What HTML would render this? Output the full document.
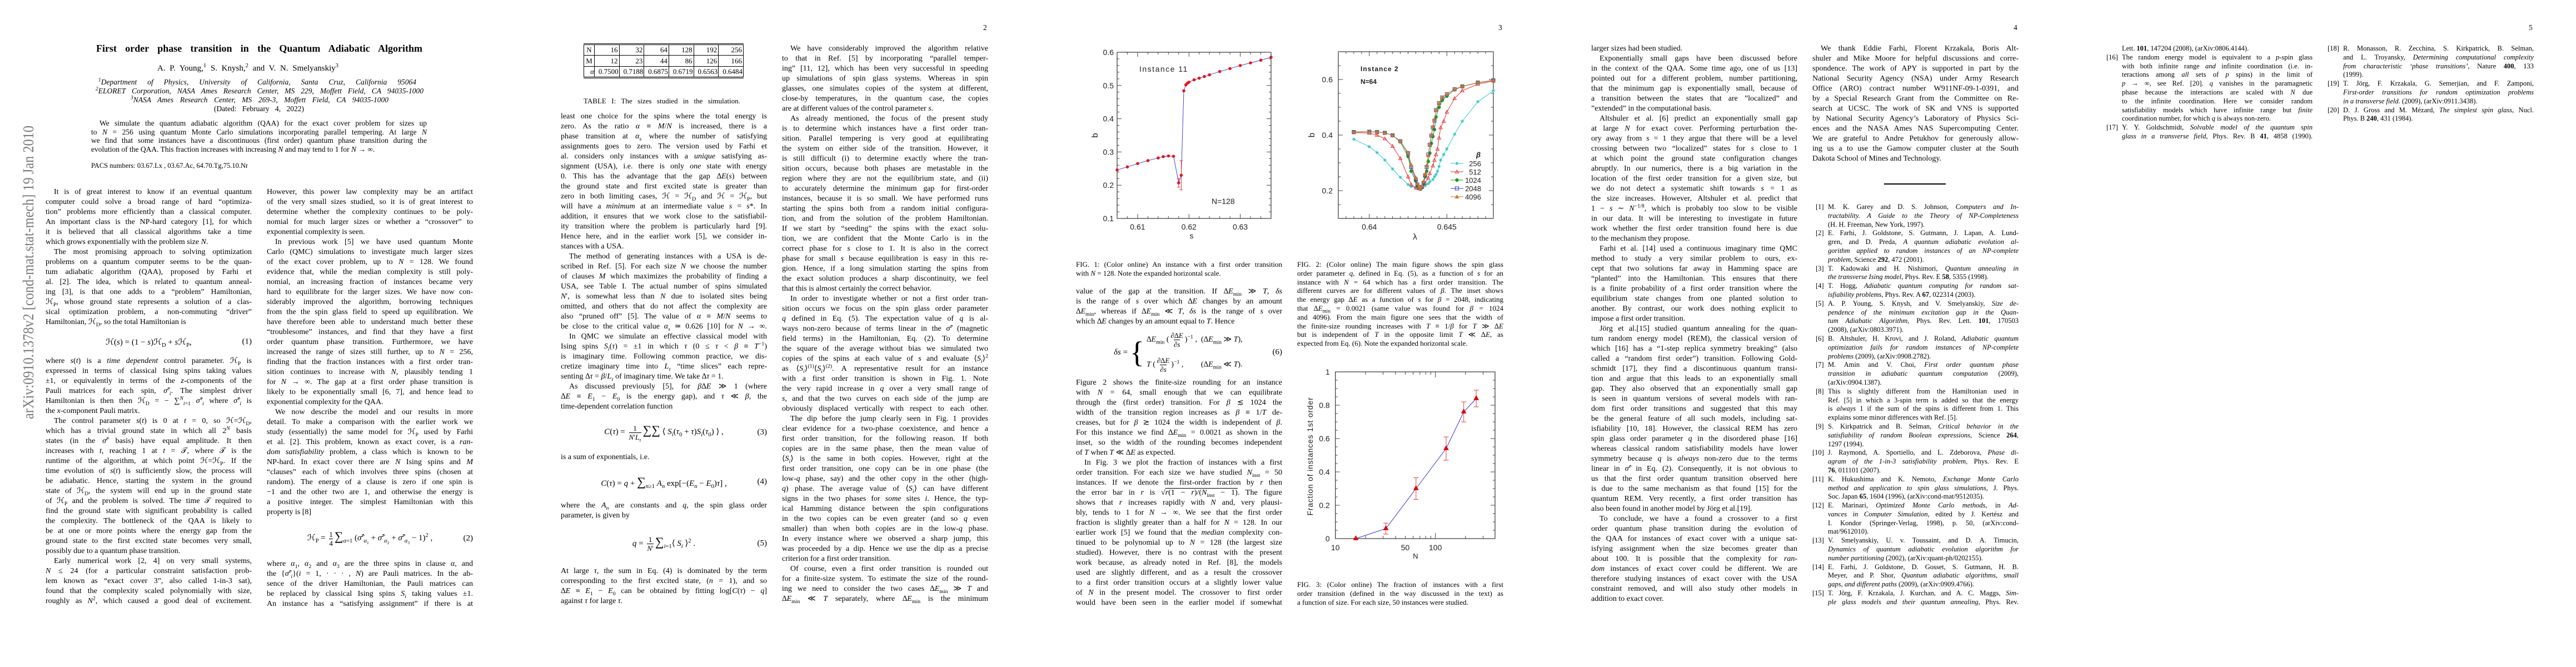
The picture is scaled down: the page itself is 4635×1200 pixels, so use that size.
<!DOCTYPE html>
<html><head><meta charset="utf-8">
<style>
*{margin:0;padding:0;box-sizing:border-box}
body{width:4635px;height:1200px;background:#fff;position:relative;overflow:hidden;font-family:"Liberation Serif",serif;color:#000}
.pg{position:absolute;top:0;width:927px;height:1200px}
.col{position:absolute;width:371px;font-size:14px}
.l{height:18px;line-height:18px;text-align:justify;text-align-last:justify;overflow:hidden;white-space:normal}
.e{text-align-last:left}
.i{text-indent:15px}
.eq{position:relative;display:flex;align-items:center;justify-content:center;font-size:15px}
.eq .n{position:absolute;right:0;top:50%;transform:translateY(-50%)}
.fr{display:inline-flex;flex-direction:column;align-items:center;vertical-align:middle;font-size:13px;line-height:15px;margin:0 3px}
.fr>span:last-child{border-top:1px solid #000}
.pn{position:absolute;left:842px;top:42px;font-size:13.5px}
.cap{position:absolute;width:371px;font-size:13px}
.cap .l{height:15.8px;line-height:15.8px}
.refs{position:absolute;width:371px;font-size:12.5px}
.ref{position:relative;padding-left:28px}
.ref .lb{position:absolute;left:6px;top:0;line-height:15.8px}
.ref .l{height:15.8px;line-height:15.8px}
.ref.w .lb{left:0}
sub,sup{font-size:70%;line-height:0}
svg text{font-family:"Liberation Sans",sans-serif}
</style></head><body>

<svg style="position:absolute;left:20px;top:215px" width="45" height="550">
<text transform="translate(40,539) rotate(-90)" textLength="528" lengthAdjust="spacingAndGlyphs" font-size="27" fill="#7a7a7a" style="font-family:'Liberation Serif',serif">arXiv:0910.1378v2  [cond-mat.stat-mech]  19 Jan 2010</text>
</svg>

<div class="pg" style="left:0">
<div style="position:absolute;left:173px;top:77px;width:587px;font-size:18px;font-weight:bold;text-align:justify;text-align-last:justify;white-space:nowrap">First order phase transition in the Quantum Adiabatic Algorithm</div>
<div style="position:absolute;left:283px;top:115px;width:326px;font-size:15px;text-align:justify;text-align-last:justify;white-space:nowrap">A. P. Young,<sup>1</sup> S. Knysh,<sup>2</sup> and V. N. Smelyanskiy<sup>3</sup></div>
<div style="position:absolute;left:0;top:140px;width:927px;font-size:13.5px;font-style:italic;line-height:16px">
<div style="margin-left:177px;width:572px;text-align:justify;text-align-last:justify;white-space:nowrap"><sup>1</sup>Department of Physics, University of California, Santa Cruz, California 95064</div>
<div style="margin-left:172px;width:590px;text-align:justify;text-align-last:justify;white-space:nowrap"><sup>2</sup>ELORET Corporation, NASA Ames Research Center, MS 229, Moffett Field, CA 94035-1000</div>
<div style="margin-left:235px;width:464px;text-align:justify;text-align-last:justify;white-space:nowrap"><sup>3</sup>NASA Ames Research Center, MS 269-3, Moffett Field, CA 94035-1000</div>
<div style="margin-left:385px;width:162px;font-style:normal;text-align:justify;text-align-last:justify;white-space:nowrap">(Dated: February 4, 2022)</div>
</div>
<div style="position:absolute;left:164px;top:214px;width:604px;font-size:13.5px">
<div class="l i" style="height:15.7px;line-height:15.7px">We simulate the quantum adiabatic algorithm (QAA) for the exact cover problem for sizes up</div>
<div class="l" style="height:15.7px;line-height:15.7px">to <i>N</i> = 256 using quantum Monte Carlo simulations incorporating parallel tempering. At large <i>N</i></div>
<div class="l" style="height:15.7px;line-height:15.7px">we find that some instances have a discontinuous (first order) quantum phase transition during the</div>
<div class="l e" style="height:15.7px;line-height:15.7px">evolution of the QAA. This fraction increases with increasing <i>N</i> and may tend to 1 for <i>N</i> → ∞.</div>
</div>
<div style="position:absolute;left:164px;top:291px;font-size:12.5px">PACS numbers: 03.67.Lx , 03.67.Ac, 64.70.Tg,75.10.Nr</div>

<div class="col" style="left:82px;top:337px">
<div class="l i">It is of great interest to know if an eventual quantum</div>
<div class="l">computer could solve a broad range of hard “optimiza-</div>
<div class="l">tion” problems more efficiently than a classical computer.</div>
<div class="l">An important class is the NP-hard category [1], for which</div>
<div class="l">it is believed that all classical algorithms take a time</div>
<div class="l e">which grows exponentially with the problem size <i>N</i>.</div>
<div class="l i">The most promising approach to solving optimization</div>
<div class="l">problems on a quantum computer seems to be the quan-</div>
<div class="l">tum adiabatic algorithm (QAA), proposed by Farhi et</div>
<div class="l">al. [2]. The idea, which is related to quantum anneal-</div>
<div class="l">ing [3], is that one adds to a “problem” Hamiltonian,</div>
<div class="l">ℋ<sub>P</sub>, whose ground state represents a solution of a clas-</div>
<div class="l">sical optimization problem, a non-commuting “driver”</div>
<div class="l e">Hamiltonian, ℋ<sub>D</sub>, so the total Hamiltonian is</div>
<div class="eq" style="height:52px"><span>ℋ(<i>s</i>) = (1 − <i>s</i>)ℋ<sub>D</sub> + <i>s</i>ℋ<sub>P</sub>,</span><span class="n">(1)</span></div>
<div class="l">where <i>s</i>(<i>t</i>) is a <i>time dependent</i> control parameter. ℋ<sub>P</sub> is</div>
<div class="l">expressed in terms of classical Ising spins taking values</div>
<div class="l">±1, or equivalently in terms of the <i>z</i>-components of the</div>
<div class="l">Pauli matrices for each spin, <i>σ̂</i><sup><i>z</i></sup><sub><i>i</i></sub>. The simplest driver</div>
<div class="l">Hamiltonian is then then ℋ<sub>D</sub> = − ∑<sup><i>N</i></sup><sub><i>i</i>=1</sub> <i>σ̂</i><sup><i>x</i></sup><sub><i>i</i></sub> where <i>σ̂</i><sup><i>x</i></sup><sub><i>i</i></sub> is</div>
<div class="l e">the <i>x</i>-component Pauli matrix.</div>
<div class="l i">The control parameter <i>s</i>(<i>t</i>) is 0 at <i>t</i> = 0, so ℋ=ℋ<sub>D</sub>,</div>
<div class="l">which has a trivial ground state in which all 2<sup><i>N</i></sup> basis</div>
<div class="l">states (in the <i>σ̂</i><sup><i>z</i></sup> basis) have equal amplitude. It then</div>
<div class="l">increases with <i>t</i>, reaching 1 at <i>t</i> = 𝒯, where 𝒯 is the</div>
<div class="l">runtime of the algorithm, at which point ℋ=ℋ<sub>P</sub>. If the</div>
<div class="l">time evolution of <i>s</i>(<i>t</i>) is sufficiently slow, the process will</div>
<div class="l">be adiabatic. Hence, starting the system in the ground</div>
<div class="l">state of ℋ<sub>D</sub>, the system will end up in the ground state</div>
<div class="l">of ℋ<sub>P</sub> and the problem is solved. The time 𝒯 required to</div>
<div class="l">find the ground state with significant probability is called</div>
<div class="l">the complexity. The bottleneck of the QAA is likely to</div>
<div class="l">be at one or more points where the energy gap from the</div>
<div class="l">ground state to the first excited state becomes very small,</div>
<div class="l e">possibly due to a quantum phase transition.</div>
<div class="l i">Early numerical work [2, 4] on very small systems,</div>
<div class="l"><i>N</i> ≤ 24 (for a particular constraint satisfaction prob-</div>
<div class="l">lem known as “exact cover 3”, also called 1-in-3 sat),</div>
<div class="l">found that the complexity scaled polynomially with size,</div>
<div class="l">roughly as <i>N</i><sup>2</sup>, which caused a good deal of excitement.</div>
</div>

<div class="col" style="left:480px;top:337px">
<div class="l">However, this power law complexity may be an artifact</div>
<div class="l">of the very small sizes studied, so it is of great interest to</div>
<div class="l">determine whether the complexity continues to be poly-</div>
<div class="l">nomial for much larger sizes or whether a “crossover” to</div>
<div class="l e">exponential complexity is seen.</div>
<div class="l i">In previous work [5] we have used quantum Monte</div>
<div class="l">Carlo (QMC) simulations to investigate much larger sizes</div>
<div class="l">of the exact cover problem, up to <i>N</i> = 128. We found</div>
<div class="l">evidence that, while the median complexity is still poly-</div>
<div class="l">nomial, an increasing fraction of instances became very</div>
<div class="l">hard to equilibrate for the larger sizes. We have now con-</div>
<div class="l">siderably improved the algorithm, borrowing techniques</div>
<div class="l">from the the spin glass field to speed up equilibration. We</div>
<div class="l">have therefore been able to understand much better these</div>
<div class="l">“troublesome” instances, and find that they have a first</div>
<div class="l">order quantum phase transition. Furthermore, we have</div>
<div class="l">increased the range of sizes still further, up to <i>N</i> = 256,</div>
<div class="l">finding that the fraction instances with a first order tran-</div>
<div class="l">sition continues to increase with <i>N</i>, plausibly tending 1</div>
<div class="l">for <i>N</i> → ∞. The gap at a first order phase transition is</div>
<div class="l">likely to be exponentially small [6, 7], and hence lead to</div>
<div class="l e">exponential complexity for the QAA.</div>
<div class="l i">We now describe the model and our results in more</div>
<div class="l">detail. To make a comparison with the earlier work we</div>
<div class="l">study (essentially) the same model for ℋ<sub>P</sub> used by Farhi</div>
<div class="l">et al. [2]. This problem, known as exact cover, is a <i>ran-</i></div>
<div class="l"><i>dom satisfiability</i> problem, a class which is known to be</div>
<div class="l">NP-hard. In exact cover there are <i>N</i> Ising spins and <i>M</i></div>
<div class="l">“clauses” each of which involves three spins (chosen at</div>
<div class="l">random). The energy of a clause is zero if one spin is</div>
<div class="l">−1 and the other two are 1, and otherwise the energy is</div>
<div class="l">a positive integer. The simplest Hamiltonian with this</div>
<div class="l e">property is [8]</div>
<div class="eq" style="height:75px"><span>ℋ<sub>P</sub> = <span class="fr"><span>1</span><span>4</span></span><span style="font-size:22px">∑</span><sub><i>α</i>=1</sub> (<i>σ̂</i><sup><i>z</i></sup><sub><i>α</i><sub>1</sub></sub> + <i>σ̂</i><sup><i>z</i></sup><sub><i>α</i><sub>2</sub></sub> + <i>σ̂</i><sup><i>z</i></sup><sub><i>α</i><sub>3</sub></sub> − 1)<sup>2</sup> ,</span><span class="n">(2)</span></div>
<div class="l">where <i>α</i><sub>1</sub>, <i>α</i><sub>2</sub> and <i>α</i><sub>3</sub> are the three spins in clause <i>α</i>, and</div>
<div class="l">the {<i>σ̂</i><sup><i>z</i></sup><sub><i>i</i></sub>}(<i>i</i> = 1, · · · , <i>N</i>) are Pauli matrices. In the ab-</div>
<div class="l">sence of the driver Hamiltonian, the Pauli matrices can</div>
<div class="l">be replaced by classical Ising spins <i>S<sub>i</sub></i> taking values ±1.</div>
<div class="l">An instance has a “satisfying assignment” if there is at</div>
</div>
</div>

<div class="pg" style="left:927px">
<div class="pn">2</div>
<table style="position:absolute;left:123px;top:78px;width:288px;border-collapse:collapse;font-size:13px;border-top:3px double #000;border-bottom:3px double #000">
<tr style="height:20px"><td style="border:1px solid #000;width:19px;text-align:center">N</td><td style="border:1px solid #000;text-align:right;padding-right:2px">16</td><td style="border:1px solid #000;text-align:right;padding-right:2px">32</td><td style="border:1px solid #000;text-align:right;padding-right:2px">64</td><td style="border:1px solid #000;text-align:right;padding-right:2px">128</td><td style="border:1px solid #000;text-align:right;padding-right:2px">192</td><td style="border:1px solid #000;text-align:right;padding-right:2px">256</td></tr>
<tr style="height:20px"><td style="border:1px solid #000;text-align:center">M</td><td style="border:1px solid #000;text-align:right;padding-right:2px">12</td><td style="border:1px solid #000;text-align:right;padding-right:2px">23</td><td style="border:1px solid #000;text-align:right;padding-right:2px">44</td><td style="border:1px solid #000;text-align:right;padding-right:2px">86</td><td style="border:1px solid #000;text-align:right;padding-right:2px">126</td><td style="border:1px solid #000;text-align:right;padding-right:2px">166</td></tr>
<tr style="height:20px"><td style="border:1px solid #000;text-align:right"><i>α</i></td><td style="border:1px solid #000;text-align:right;padding-right:1px">0.7500</td><td style="border:1px solid #000;text-align:right;padding-right:1px">0.7188</td><td style="border:1px solid #000;text-align:right;padding-right:1px">0.6875</td><td style="border:1px solid #000;text-align:right;padding-right:1px">0.6719</td><td style="border:1px solid #000;text-align:right;padding-right:1px">0.6563</td><td style="border:1px solid #000;text-align:right;padding-right:1px">0.6484</td></tr>
</table>
<div style="position:absolute;left:123px;top:174px;width:282px;font-size:13px;text-align:justify;text-align-last:justify;white-space:nowrap">TABLE I: The sizes studied in the simulation.</div>

<div class="col" style="left:82px;top:201px">
<div class="l">least one choice for the spins where the total energy is</div>
<div class="l">zero. As the ratio <i>α</i> ≡ <i>M</i>/<i>N</i> is increased, there is a</div>
<div class="l">phase transition at <i>α<sub>s</sub></i> where the number of satisfying</div>
<div class="l">assignments goes to zero. The version used by Farhi et</div>
<div class="l">al. considers only instances with a <i>unique</i> satisfying as-</div>
<div class="l">signment (USA), i.e. there is only <i>one</i> state with energy</div>
<div class="l">0. This has the advantage that the gap ∆<i>E</i>(<i>s</i>) between</div>
<div class="l">the ground state and first excited state is greater than</div>
<div class="l">zero in both limiting cases, ℋ = ℋ<sub>D</sub> and ℋ = ℋ<sub>P</sub>, but</div>
<div class="l">will have a <i>minimum</i> at an intermediate value <i>s</i> = <i>s</i>*. In</div>
<div class="l">addition, it ensures that we work close to the satisfiabil-</div>
<div class="l">ity transition where the problem is particularly hard [9].</div>
<div class="l">Hence here, and in the earlier work [5], we consider in-</div>
<div class="l e">stances with a USA.</div>
<div class="l i">The method of generating instances with a USA is de-</div>
<div class="l">scribed in Ref. [5]. For each size <i>N</i> we choose the number</div>
<div class="l">of clauses <i>M</i> which maximizes the probability of finding a</div>
<div class="l">USA, see Table I. The actual number of spins simulated</div>
<div class="l"><i>N</i>′, is somewhat less than <i>N</i> due to isolated sites being</div>
<div class="l">omitted, and others that do not affect the complexity are</div>
<div class="l">also “pruned off” [5]. The value of <i>α</i> ≡ <i>M</i>/<i>N</i> seems to</div>
<div class="l">be close to the critical value <i>α<sub>s</sub></i> ≃ 0.626 [10] for <i>N</i> → ∞.</div>
<div class="l i">In QMC we simulate an effective classical model with</div>
<div class="l">Ising spins <i>S<sub>i</sub></i>(<i>τ</i>) = ±1 in which <i>τ</i> (0 ≤ <i>τ</i> &lt; <i>β</i> ≡ <i>T</i><sup>−1</sup>)</div>
<div class="l">is imaginary time. Following common practice, we dis-</div>
<div class="l">cretize imaginary time into <i>L<sub>τ</sub></i> “time slices” each repre-</div>
<div class="l e">senting ∆<i>τ</i> = <i>β</i>/<i>L<sub>τ</sub></i> of imaginary time. We take ∆<i>τ</i> = 1.</div>
<div class="l i">As discussed previously [5], for <i>β</i>∆<i>E</i> ≫ 1 (where</div>
<div class="l">∆<i>E</i> ≡ <i>E</i><sub>1</sub> − <i>E</i><sub>0</sub> is the energy gap), and <i>τ</i> ≪ <i>β</i>, the</div>
<div class="l e">time-dependent correlation function</div>
<div class="eq" style="height:73px"><span><i>C</i>(<i>τ</i>) = <span class="fr"><span>1</span><span><i>N</i>′<i>L<sub>τ</sub></i></span></span><span style="font-size:22px">∑∑</span> ⟨ <i>S<sub>i</sub></i>(<i>τ</i><sub>0</sub> + <i>τ</i>)<i>S<sub>i</sub></i>(<i>τ</i><sub>0</sub>) ⟩ ,</span><span class="n">(3)</span></div>
<div class="l e">is a sum of exponentials, i.e.</div>
<div class="eq" style="height:69px"><span><i>C</i>(<i>τ</i>) = <i>q</i> + <span style="font-size:22px">∑</span><sub><i>n</i>≥1</sub> <i>A<sub>n</sub></i> exp[−(<i>E<sub>n</sub></i> − <i>E</i><sub>0</sub>)<i>τ</i>] ,</span><span class="n">(4)</span></div>
<div class="l">where the <i>A<sub>n</sub></i> are constants and <i>q</i>, the spin glass order</div>
<div class="l e">parameter, is given by</div>
<div class="eq" style="height:82px"><span><i>q</i> = <span class="fr"><span>1</span><span><i>N</i>′</span></span><span style="font-size:22px">∑</span><sub><i>i</i>=1</sub>⟨ <i>S<sub>i</sub></i> ⟩<sup>2</sup> .</span><span class="n">(5)</span></div>
<div class="l">At large <i>τ</i>, the sum in Eq. (4) is dominated by the term</div>
<div class="l">corresponding to the first excited state, (<i>n</i> = 1), and so</div>
<div class="l">∆<i>E</i> ≡ <i>E</i><sub>1</sub> − <i>E</i><sub>0</sub> can be obtained by fitting log[<i>C</i>(<i>τ</i>) − <i>q</i>]</div>
<div class="l e">against <i>τ</i> for large <i>τ</i>.</div>
</div>

<div class="col" style="left:480px;top:79px">
<div class="l i">We have considerably improved the algorithm relative</div>
<div class="l">to that in Ref. [5] by incorporating “parallel temper-</div>
<div class="l">ing” [11, 12], which has been very successful in speeding</div>
<div class="l">up simulations of spin glass systems. Whereas in spin</div>
<div class="l">glasses, one simulates copies of the system at different,</div>
<div class="l">close-by temperatures, in the quantum case, the copies</div>
<div class="l e">are at different values of the control parameter <i>s</i>.</div>
<div class="l i">As already mentioned, the focus of the present study</div>
<div class="l">is to determine which instances have a first order tran-</div>
<div class="l">sition. Parallel tempering is very good at equilibrating</div>
<div class="l">the system on either side of the transition. However, it</div>
<div class="l">is still difficult (i) to determine exactly where the tran-</div>
<div class="l">sition occurs, because both phases are metastable in the</div>
<div class="l">region where they are not the equilibrium state, and (ii)</div>
<div class="l">to accurately determine the minimum gap for first-order</div>
<div class="l">instances, because it is so small. We have performed runs</div>
<div class="l">starting the spins both from a random initial configura-</div>
<div class="l">tion, and from the solution of the problem Hamiltonian.</div>
<div class="l">If we start by “seeding” the spins with the exact solu-</div>
<div class="l">tion, we are confident that the Monte Carlo is in the</div>
<div class="l">correct phase for <i>s</i> close to 1. It is also in the correct</div>
<div class="l">phase for small <i>s</i> because equilibration is easy in this re-</div>
<div class="l">gion. Hence, if a long simulation starting the spins from</div>
<div class="l">the exact solution produces a sharp discontinuity, we feel</div>
<div class="l e">that this is almost certainly the correct behavior.</div>
<div class="l i">In order to investigate whether or not a first order tran-</div>
<div class="l">sition occurs we focus on the spin glass order parameter</div>
<div class="l"><i>q</i> defined in Eq. (5). The expectation value of <i>q</i> is al-</div>
<div class="l">ways non-zero because of terms linear in the <i>σ̂</i><sup><i>z</i></sup> (magnetic</div>
<div class="l">field terms) in the Hamiltonian, Eq. (2). To determine</div>
<div class="l">the square of the average without bias we simulated two</div>
<div class="l">copies of the spins at each value of <i>s</i> and evaluate ⟨<i>S<sub>i</sub></i>⟩<sup>2</sup></div>
<div class="l">as ⟨<i>S<sub>i</sub></i>⟩<sup>(1)</sup>⟨<i>S<sub>i</sub></i>⟩<sup>(2)</sup>. A representative result for an instance</div>
<div class="l">with a first order transition is shown in Fig. 1. Note</div>
<div class="l">the very rapid increase in <i>q</i> over a very small range of</div>
<div class="l"><i>s</i>, and that the two curves on each side of the jump are</div>
<div class="l">obviously displaced vertically with respect to each other.</div>
<div class="l i">The dip before the jump clearly seen in Fig. 1 provides</div>
<div class="l">clear evidence for a two-phase coexistence, and hence a</div>
<div class="l">first order transition, for the following reason. If both</div>
<div class="l">copies are in the same phase, then the mean value of</div>
<div class="l">⟨<i>S<sub>i</sub></i>⟩ is the same in both copies. However, right at the</div>
<div class="l">first order transition, one copy can be in one phase (the</div>
<div class="l">low-<i>q</i> phase, say) and the other copy in the other (high-</div>
<div class="l"><i>q</i>) phase. The average value of ⟨<i>S<sub>i</sub></i>⟩ can have different</div>
<div class="l">signs in the two phases for <i>some</i> sites <i>i</i>. Hence, the typ-</div>
<div class="l">ical Hamming distance between the spin configurations</div>
<div class="l">in the two copies can be even greater (and so <i>q</i> even</div>
<div class="l">smaller) than when both copies are in the low-<i>q</i> phase.</div>
<div class="l">In every instance where we observed a sharp jump, this</div>
<div class="l">was proceeded by a dip. Hence we use the dip as a precise</div>
<div class="l e">criterion for a first order transition.</div>
<div class="l i">Of course, even a first order transition is rounded out</div>
<div class="l">for a finite-size system. To estimate the size of the round-</div>
<div class="l">ing we need to consider the two cases ∆<i>E</i><sub>min</sub> ≫ <i>T</i> and</div>
<div class="l">∆<i>E</i><sub>min</sub> ≪ <i>T</i> separately, where ∆<i>E</i><sub>min</sub> is the minimum</div>
</div>
</div>

<div class="pg" style="left:1854px">
<div class="pn">3</div>
<div class="cap" style="left:82px;top:468px">
<div class="l">FIG. 1: (Color online) An instance with a first order transition</div>
<div class="l e">with <i>N</i> = 128. Note the expanded horizontal scale.</div>
</div>
<div class="col" style="left:82px;top:516px">
<div class="l">value of the gap at the transition. If ∆<i>E</i><sub>min</sub> ≫ <i>T</i>, <i>δs</i></div>
<div class="l">is the range of <i>s</i> over which ∆<i>E</i> changes by an amount</div>
<div class="l">∆<i>E</i><sub>min</sub>, whereas if ∆<i>E</i><sub>min</sub> ≪ <i>T</i>, <i>δs</i> is the range of <i>s</i> over</div>
<div class="l e">which ∆<i>E</i> changes by an amount equal to <i>T</i>. Hence</div>
<div class="eq" style="height:92px;justify-content:flex-start;padding-left:68px"><span><i>δs</i> = </span><span style="font-size:54px;font-weight:100;margin:0 4px;line-height:1">{</span><span style="display:inline-flex;flex-direction:column;gap:14px;font-size:14px"><span>∆<i>E</i><sub>min</sub> (<span class="fr"><span>∂∆<i>E</i></span><span>∂<i>s</i></span></span>)<sup>−1</sup> , &nbsp;(∆<i>E</i><sub>min</sub> ≫ <i>T</i>),</span><span><i>T</i> (<span class="fr"><span>∂∆<i>E</i></span><span>∂<i>s</i></span></span>)<sup>−1</sup> , &nbsp;&nbsp;&nbsp;&nbsp;&nbsp;&nbsp;&nbsp;&nbsp;(∆<i>E</i><sub>min</sub> ≪ <i>T</i>).</span></span><span class="n">(6)</span></div>
<div class="l">Figure 2 shows the finite-size rounding for an instance</div>
<div class="l">with <i>N</i> = 64, small enough that we can equilibrate</div>
<div class="l">through the (first order) transition. For <i>β</i> ≲ 1024 the</div>
<div class="l">width of the transition region increases as <i>β</i> ≡ 1/<i>T</i> de-</div>
<div class="l">creases, but for <i>β</i> ≳ 1024 the width is independent of <i>β</i>.</div>
<div class="l">For this instance we find ∆<i>E</i><sub>min</sub> = 0.0021 as shown in the</div>
<div class="l">inset, so the width of the rounding becomes independent</div>
<div class="l e">of <i>T</i> when <i>T</i> ≪ ∆<i>E</i> as expected.</div>
<div class="l i">In Fig. 3 we plot the fraction of instances with a first</div>
<div class="l">order transition. For each size we have studied <i>N</i><sub>inst</sub> = 50</div>
<div class="l">instances. If we denote the first-order fraction by <i>r</i> then</div>
<div class="l">the error bar in <i>r</i> is √<span style="border-top:1px solid #000"><i>r</i>(1 − <i>r</i>)/(<i>N</i><sub>inst</sub> − 1)</span>. The figure</div>
<div class="l">shows that <i>r</i> increases rapidly with <i>N</i> and, very plausi-</div>
<div class="l">bly, tends to 1 for <i>N</i> → ∞. We see that the first order</div>
<div class="l">fraction is slightly greater than a half for <i>N</i> = 128. In our</div>
<div class="l">earlier work [5] we found that the <i>median</i> complexity con-</div>
<div class="l">tinued to be polynomial up to <i>N</i> = 128 (the largest size</div>
<div class="l">studied). However, there is no contrast with the present</div>
<div class="l">work because, as already noted in Ref. [8], the models</div>
<div class="l">used are slightly different, and as a result the crossover</div>
<div class="l">to a first order transition occurs at a slightly lower value</div>
<div class="l">of <i>N</i> in the present model. The crossover to first order</div>
<div class="l">would have been seen in the earlier model if somewhat</div>
</div>
<div class="cap" style="left:480px;top:468px">
<div class="l">FIG. 2: (Color online) The main figure shows the spin glass</div>
<div class="l">order parameter <i>q</i>, defined in Eq. (5), as a function of <i>s</i> for an</div>
<div class="l">instance with <i>N</i> = 64 which has a first order transition. The</div>
<div class="l">different curves are for different values of <i>β</i>. The inset shows</div>
<div class="l">the energy gap ∆<i>E</i> as a function of <i>s</i> for <i>β</i> = 2048, indicating</div>
<div class="l">that ∆<i>E</i><sub>min</sub> = 0.0021 (same value was found for <i>β</i> = 1024</div>
<div class="l">and 4096). From the main figure one sees that the width of</div>
<div class="l">the finite-size rounding increases with <i>T</i> ≡ 1/<i>β</i> for <i>T</i> ≫ ∆<i>E</i></div>
<div class="l">but is independent of <i>T</i> in the opposite limit <i>T</i> ≪ ∆<i>E</i>, as</div>
<div class="l e">expected from Eq. (6). Note the expanded horizontal scale.</div>
</div>
<div class="cap" style="left:480px;top:1044px">
<div class="l">FIG. 3: (Color online) The fraction of instances with a first</div>
<div class="l">order transition (defined in the way discussed in the text) as</div>
<div class="l e">a function of size. For each size, 50 instances were studied.</div>
</div>
</div>

<svg id="fig1" style="position:absolute;left:1954px;top:80px" width="346" height="360"></svg>
<svg id="fig2" style="position:absolute;left:2340px;top:80px" width="360" height="360"></svg>
<svg id="fig3" style="position:absolute;left:2330px;top:650px" width="370" height="360"></svg>

<div class="pg" style="left:2781px">
<div class="pn">4</div>
<div class="col" style="left:82px;top:79px">
<div class="l e">larger sizes had been studied.</div>
<div class="l i">Exponentially small gaps have been discussed before</div>
<div class="l">in the context of the QAA. Some time ago, one of us [13]</div>
<div class="l">pointed out for a different problem, number partitioning,</div>
<div class="l">that the minimum gap is exponentially small, because of</div>
<div class="l">a transition between the states that are ”localized” and</div>
<div class="l e">”extended” in the computational basis.</div>
<div class="l i">Altshuler et al. [6] predict an exponentially small gap</div>
<div class="l">at large <i>N</i> for exact cover. Performing perturbation the-</div>
<div class="l">ory away from <i>s</i> = 1 they argue that there will be a level</div>
<div class="l">crossing between two “localized” states for <i>s</i> close to 1</div>
<div class="l">at which point the ground state configuration changes</div>
<div class="l">abruptly. In our numerics, there is a big variation in the</div>
<div class="l">location of the first order transition for a given size, but</div>
<div class="l">we do not detect a systematic shift towards <i>s</i> = 1 as</div>
<div class="l">the size increases. However, Altshuler et al. predict that</div>
<div class="l">1 − <i>s</i> ∼ <i>N</i><sup>−1/8</sup>, which is probably too slow to be visible</div>
<div class="l">in our data. It will be interesting to investigate in future</div>
<div class="l">work whether the first order transition found here is due</div>
<div class="l e">to the mechanism they propose.</div>
<div class="l i">Farhi et al. [14] used a continuous imaginary time QMC</div>
<div class="l">method to study a very similar problem to ours, ex-</div>
<div class="l">cept that two solutions far away in Hamming space are</div>
<div class="l">“planted” into the Hamiltonian. This ensures that there</div>
<div class="l">is a finite probability of a first order transition where the</div>
<div class="l">equilibrium state changes from one planted solution to</div>
<div class="l">another. By contrast, our work does nothing explicit to</div>
<div class="l e">impose a first order transition.</div>
<div class="l i">Jörg et al.[15] studied quantum annealing for the quan-</div>
<div class="l">tum random energy model (REM), the classical version of</div>
<div class="l">which [16] has a “1-step replica symmetry breaking” (also</div>
<div class="l">called a “random first order”) transition. Following Gold-</div>
<div class="l">schmidt [17], they find a discontinuous quantum transi-</div>
<div class="l">tion and argue that this leads to an exponentially small</div>
<div class="l">gap. They also observed that an exponentially small gap</div>
<div class="l">is seen in quantum versions of several models with ran-</div>
<div class="l">dom first order transitions and suggested that this may</div>
<div class="l">be the general feature of all such models, including sat-</div>
<div class="l">isfiability [10, 18]. However, the classical REM has zero</div>
<div class="l">spin glass order parameter <i>q</i> in the disordered phase [16]</div>
<div class="l">whereas classical random satisfiability models have lower</div>
<div class="l">symmetry because <i>q</i> is <i>always</i> non-zero due to the terms</div>
<div class="l">linear in <i>σ̂</i><sup><i>z</i></sup> in Eq. (2). Consequently, it is not obvious to</div>
<div class="l">us that the first order quantum transition observed here</div>
<div class="l">is due to the same mechanism as that found [15] for the</div>
<div class="l">quantum REM. Very recently, a first order transition has</div>
<div class="l e">also been found in another model by Jörg et al.[19].</div>
<div class="l i">To conclude, we have a found a crossover to a first</div>
<div class="l">order quantum phase transition during the evolution of</div>
<div class="l">the QAA for instances of exact cover with a unique sat-</div>
<div class="l">isfying assignment when the size becomes greater than</div>
<div class="l">about 100. It is possible that the complexity for <i>ran-</i></div>
<div class="l"><i>dom</i> instances of exact cover could be different. We are</div>
<div class="l">therefore studying instances of exact cover with the USA</div>
<div class="l">constraint removed, and will also study other models in</div>
<div class="l e">addition to exact cover.</div>
</div>
<div class="col" style="left:480px;top:79px">
<div class="l i">We thank Eddie Farhi, Florent Krzakala, Boris Alt-</div>
<div class="l">shuler and Mike Moore for helpful discussions and corre-</div>
<div class="l">spondence. The work of APY is supported in part by the</div>
<div class="l">National Security Agency (NSA) under Army Research</div>
<div class="l">Office (ARO) contract number W911NF-09-1-0391, and</div>
<div class="l">by a Special Research Grant from the Committee on Re-</div>
<div class="l">search at UCSC. The work of SK and VNS is supported</div>
<div class="l">by National Security Agency’s Laboratory of Physics Sci-</div>
<div class="l">ences and the NASA Ames NAS Supercomputing Center.</div>
<div class="l">We are grateful to Andre Petukhov for generously allow-</div>
<div class="l">ing us a to use the Gamow computer cluster at the South</div>
<div class="l e">Dakota School of Mines and Technology.</div>
</div>
<div style="position:absolute;left:609px;top:330px;width:111px;height:1.5px;background:#000"></div>
<div class="refs" style="left:480px;top:365px">
<div class="ref"><span class="lb">[1]</span><div class="l">M. K. Garey and D. S. Johnson, <i>Computers and In-</i></div><div class="l"><i>tractability. A Guide to the Theory of NP-Completeness</i></div><div class="l e">(H. H. Freeman, New York, 1997).</div></div>
<div class="ref"><span class="lb">[2]</span><div class="l">E. Farhi, J. Goldstone, S. Gutmann, J. Lapan, A. Lund-</div><div class="l">gren, and D. Preda, <i>A quantum adiabatic evolution al-</i></div><div class="l"><i>gorithm applied to random instances of an NP-complete</i></div><div class="l e"><i>problem</i>, Science <b>292</b>, 472 (2001).</div></div>
<div class="ref"><span class="lb">[3]</span><div class="l">T. Kadowaki and H. Nishimori, <i>Quantum annealing in</i></div><div class="l e"><i>the transverse Ising model</i>, Phys. Rev. E <b>58</b>, 5355 (1998).</div></div>
<div class="ref"><span class="lb">[4]</span><div class="l">T. Hogg, <i>Adiabatic quantum computing for random sat-</i></div><div class="l e"><i>isfiability problems</i>, Phys. Rev. A <b>67</b>, 022314 (2003).</div></div>
<div class="ref"><span class="lb">[5]</span><div class="l">A. P. Young, S. Knysh, and V. Smelyanskiy, <i>Size de-</i></div><div class="l"><i>pendence of the minimum excitation gap in the Quan-</i></div><div class="l"><i>tum Adiabatic Algorithm</i>, Phys. Rev. Lett. <b>101</b>, 170503</div><div class="l e">(2008), (arXiv:0803.3971).</div></div>
<div class="ref"><span class="lb">[6]</span><div class="l">B. Altshuler, H. Krovi, and J. Roland, <i>Adiabatic quantum</i></div><div class="l"><i>optimization fails for random instances of NP-complete</i></div><div class="l e"><i>problems</i> (2009), (arXiv:0908.2782).</div></div>
<div class="ref"><span class="lb">[7]</span><div class="l">M. Amin and V. Choi, <i>First order quantum phase</i></div><div class="l"><i>transition in adiabatic quantum computation</i> (2009),</div><div class="l e">(arXiv:0904.1387).</div></div>
<div class="ref"><span class="lb">[8]</span><div class="l">This is slightly different from the Hamiltonian used in</div><div class="l">Ref. [5] in which a 3-spin term is added so that the energy</div><div class="l">is <i>always</i> 1 if the sum of the spins is different from 1. This</div><div class="l e">explains some minor differences with Ref. [5].</div></div>
<div class="ref"><span class="lb">[9]</span><div class="l">S. Kirkpatrick and B. Selman, <i>Critical behavior in the</i></div><div class="l"><i>satisfiability of random Boolean expressions</i>, Science <b>264</b>,</div><div class="l e">1297 (1994).</div></div>
<div class="ref w"><span class="lb">[10]</span><div class="l">J. Raymond, A. Sportiello, and L. Zdeborova, <i>Phase di-</i></div><div class="l"><i>agram of the 1-in-3 satisfiability problem</i>, Phys. Rev. E</div><div class="l e"><b>76</b>, 011101 (2007).</div></div>
<div class="ref w"><span class="lb">[11]</span><div class="l">K. Hukushima and K. Nemoto, <i>Exchange Monte Carlo</i></div><div class="l"><i>method and application to spin glass simulations</i>, J. Phys.</div><div class="l e">Soc. Japan <b>65</b>, 1604 (1996), (arXiv:cond-mat/9512035).</div></div>
<div class="ref w"><span class="lb">[12]</span><div class="l">E. Marinari, <i>Optimized Monte Carlo methods</i>, in <i>Ad-</i></div><div class="l"><i>vances in Computer Simulation</i>, edited by J. Kertész and</div><div class="l">I. Kondor (Springer-Verlag, 1998), p. 50, (arXiv:cond-</div><div class="l e">mat/9612010).</div></div>
<div class="ref w"><span class="lb">[13]</span><div class="l">V. Smelyanskiy, U. v. Toussaint, and D. A. Timucin,</div><div class="l"><i>Dynamics of quantum adiabatic evolution algorithm for</i></div><div class="l e"><i>number partitioning</i> (2002), (arXiv:quant-ph/0202155).</div></div>
<div class="ref w"><span class="lb">[14]</span><div class="l">E. Farhi, J. Goldstone, D. Gosset, S. Gutmann, H. B.</div><div class="l">Meyer, and P. Shor, <i>Quantum adiabatic algorithms, small</i></div><div class="l e"><i>gaps, and different paths</i> (2009), (arXiv:0909.4766).</div></div>
<div class="ref w"><span class="lb">[15]</span><div class="l">T. Jörg, F. Krzakala, J. Kurchan, and A. C. Maggs, <i>Sim-</i></div><div class="l"><i>ple glass models and their quantum annealing</i>, Phys. Rev.</div></div>
</div>
</div>

<div class="pg" style="left:3708px">
<div class="pn">5</div>
<div class="refs" style="left:82px;top:80px">
<div class="ref"><div class="l e">Lett. <b>101</b>, 147204 (2008), (arXiv:0806.4144).</div></div>
<div class="ref w"><span class="lb">[16]</span><div class="l">The random energy model is equivalent to a <i>p</i>-spin glass</div><div class="l">with both infinite range <i>and</i> infinite coordination (i.e. in-</div><div class="l">teractions among <i>all</i> sets of <i>p</i> spins) in the limit of</div><div class="l"><i>p</i> → ∞, see Ref. [20]. <i>q</i> vanishes in the paramagnetic</div><div class="l">phase because the interactions are scaled with <i>N</i> due</div><div class="l">to the infinite coordination. Here we consider random</div><div class="l">satisfiability models which have infinite range but <i>finite</i></div><div class="l e">coordination number, for which <i>q</i> is always non-zero.</div></div>
<div class="ref w"><span class="lb">[17]</span><div class="l">Y. Y. Goldschmidt, <i>Solvable model of the quantum spin</i></div><div class="l"><i>glass in a transverse field</i>, Phys. Rev. B <b>41</b>, 4858 (1990).</div></div>
</div>
<div class="refs" style="left:480px;top:80px">
<div class="ref w"><span class="lb">[18]</span><div class="l">R. Monasson, R. Zecchina, S. Kirkpatrick, B. Selman,</div><div class="l">and L. Troyansky, <i>Determining computational complexity</i></div><div class="l"><i>from characteristic ‘phase transitions’</i>, Nature <b>400</b>, 133</div><div class="l e">(1999).</div></div>
<div class="ref w"><span class="lb">[19]</span><div class="l">T. Jörg, F. Krzakala, G. Semerjian, and F. Zamponi,</div><div class="l"><i>First-order transitions for random optimization problems</i></div><div class="l e"><i>in a transverse field.</i> (2009), (arXiv:0911.3438).</div></div>
<div class="ref w"><span class="lb">[20]</span><div class="l">D. J. Gross and M. Mézard, <i>The simplest spin glass</i>, Nucl.</div><div class="l e">Phys. B <b>240</b>, 431 (1984).</div></div>
</div>
</div>

<script>
// ---------- Fig 1 data ----------
const f1S = [0.606,0.608,0.610,0.612,0.614,0.615,0.616,0.617,0.618,0.6185,0.619,0.6194,0.6197,0.620,0.621,0.622,0.623,0.624,0.626,0.628,0.630,0.632,0.634,0.636];
const f1Q = [0.246,0.255,0.265,0.274,0.282,0.286,0.288,0.287,0.207,0.230,0.484,0.502,0.507,0.510,0.517,0.522,0.527,0.532,0.542,0.551,0.560,0.568,0.576,0.585];
const f1Err = [0,0,0,0,0,0,0,0,0.013,0.044,0,0,0,0,0,0,0,0,0,0,0,0,0,0];
const f1XTickLabels = ["0.61","0.62","0.63"];
const f1YTickLabels = ["0.1","0.2","0.3","0.4","0.5","0.6"];
// ---------- Fig 2 data ----------
const f2SHigh = [0.639,0.640,0.6405,0.641,0.6415,0.642,0.6425,0.6427,0.6430,0.6431,0.6432,0.6433,0.6434,0.6435,0.6436,0.6437,0.6438,0.6439,0.6440,0.6441,0.6442,0.6443,0.6445,0.6447,0.6450,0.6455,0.6460,0.6470,0.6480];
const f2Q4096 = [0.411,0.412,0.411,0.408,0.399,0.378,0.337,0.293,0.247,0.225,0.213,0.208,0.217,0.233,0.260,0.290,0.327,0.367,0.400,0.430,0.455,0.490,0.515,0.535,0.547,0.565,0.575,0.589,0.597];
const f2Q2048 = [0.411,0.412,0.411,0.408,0.399,0.378,0.335,0.285,0.240,0.222,0.212,0.208,0.214,0.228,0.255,0.285,0.330,0.365,0.398,0.427,0.452,0.490,0.515,0.535,0.547,0.565,0.575,0.589,0.597];
const f2Q1024 = [0.411,0.412,0.411,0.408,0.399,0.376,0.323,0.270,0.235,0.218,0.210,0.206,0.212,0.225,0.250,0.270,0.305,0.335,0.370,0.395,0.420,0.465,0.500,0.525,0.540,0.563,0.575,0.588,0.597];
const f2SLow = [0.639,0.640,0.6405,0.641,0.6415,0.642,0.6425,0.6427,0.6430,0.6432,0.6434,0.6436,0.6438,0.6439,0.6441,0.6442,0.6443,0.6444,0.6445,0.6446,0.6448,0.6450,0.6455,0.6460,0.6470,0.6480];
const f2Q512 = [0.409,0.407,0.400,0.387,0.360,0.316,0.250,0.222,0.210,0.208,0.215,0.227,0.245,0.262,0.290,0.310,0.330,0.350,0.390,0.427,0.450,0.483,0.532,0.560,0.583,0.595];
const f2Q256 = [0.385,0.358,0.337,0.310,0.278,0.248,0.222,0.215,0.211,0.210,0.212,0.218,0.225,0.232,0.240,0.250,0.258,0.270,0.287,0.310,0.330,0.350,0.403,0.450,0.520,0.560];
const f2Betas = ["256","512","1024","2048","4096"];
const f2XTickLabels = ["0.64","0.645"];
const f2YTickLabels = ["0.2","0.4","0.6"];
// ---------- Fig 3 data ----------
const f3N = [16,32,64,128,192,256];
const f3Frac = [0,0.06,0.30,0.54,0.76,0.84];
const f3Err = [0,0.033,0.065,0.07,0.06,0.05];
const f3XTickLabels = ["10","50","100"];
const f3YTickLabels = ["0","0.2","0.4","0.6","0.8","1"];

const NS = "http://www.w3.org/2000/svg";
function el(parent, tag) { const e = document.createElementNS(NS, tag); parent.appendChild(e); return e; }
function line(p, x1, y1, x2, y2, stroke, w) { const e = el(p, "line"); e.setAttribute("x1", x1); e.setAttribute("y1", y1); e.setAttribute("x2", x2); e.setAttribute("y2", y2); e.setAttribute("stroke", stroke); e.setAttribute("stroke-width", w); return e; }
function txt(p, x, y, s, size, anchor) { const e = el(p, "text"); e.setAttribute("x", x); e.setAttribute("y", y); e.setAttribute("font-size", size); e.setAttribute("fill", "#222"); e.setAttribute("text-anchor", anchor || "middle"); e.textContent = s; return e; }
function frame(svg, L, R, T, B) { const r = el(svg, "rect"); r.setAttribute("x", L); r.setAttribute("y", T); r.setAttribute("width", R - L); r.setAttribute("height", B - T); r.setAttribute("fill", "none"); r.setAttribute("stroke", "#333"); r.setAttribute("stroke-width", 1.2); return r; }
function poly(svg, pts, color, w) { const p = el(svg, "polyline"); p.setAttribute("points", pts.map(a => a[0].toFixed(1) + "," + a[1].toFixed(1)).join(" ")); p.setAttribute("fill", "none"); p.setAttribute("stroke", color); p.setAttribute("stroke-width", w); return p; }
function marker(svg, kind, x, y, color, r) {
  let m;
  if (kind === "circle") { m = el(svg, "circle"); m.setAttribute("cx", x); m.setAttribute("cy", y); m.setAttribute("r", r); m.setAttribute("fill", color); }
  else if (kind === "square") { m = el(svg, "rect"); m.setAttribute("x", x - r); m.setAttribute("y", y - r); m.setAttribute("width", 2 * r); m.setAttribute("height", 2 * r); m.setAttribute("fill", "none"); m.setAttribute("stroke", color); m.setAttribute("stroke-width", 1); }
  else if (kind === "tri" || kind === "otri") { m = el(svg, "polygon"); m.setAttribute("points", `${x},${y - r} ${x - r},${y + r * 0.8} ${x + r},${y + r * 0.8}`); m.setAttribute("fill", kind === "tri" ? color : "none"); m.setAttribute("stroke", color); m.setAttribute("stroke-width", 1); }
  else { m = el(svg, "path"); m.setAttribute("d", `M${x - r},${y}H${x + r}M${x},${y - r}V${y + r}M${x - r * .7},${y - r * .7}L${x + r * .7},${y + r * .7}M${x - r * .7},${y + r * .7}L${x + r * .7},${y - r * .7}`); m.setAttribute("stroke", color); m.setAttribute("stroke-width", 1); }
  return m;
}

// ===== Fig 1 =====
(function () {
  const svg = document.getElementById("fig1");
  const L = 56, R = 333, T = 14, B = 313;
  const x = v => L + (v - 0.606) / (0.636 - 0.606) * (R - L);
  const y = v => B - (v - 0.1) / (0.6 - 0.1) * (B - T);
  const fr = frame(svg, L, R, T, B);
  
  
  for (let i = 0; i <= 15; i++) { const v = 0.606 + i * 0.002; const xx = x(v); const major = Math.abs(v * 100 - Math.round(v * 100)) < 1e-6; const len = major ? 8 : 4; line(svg, xx, B, xx, B - len, "#444", 1); line(svg, xx, T, xx, T + len, "#444", 1); }
  for (let i = 0; i <= 25; i++) { const v = 0.1 + i * 0.02; const yy = y(v); const major = i % 5 === 0; const len = major ? 8 : 4; line(svg, L, yy, L + len, yy, "#444", 1); line(svg, R, yy, R - len, yy, "#444", 1); }
  f1XTickLabels.forEach(s => { const t = txt(svg, x(parseFloat(s)), B + 20, s, 14);   });
  f1YTickLabels.forEach(s => { const t = txt(svg, L - 6, y(parseFloat(s)) + 5, s, 14, "end");   });
  const xt = txt(svg, x(0.6205), B + 36, "s", 14);
  
  
  const yt = txt(svg, 0, 0, "q", 15);
  yt.setAttribute("transform", `translate(13,${(T + B) / 2}) rotate(90)`);
  
  
  const a = txt(svg, 96, 49, "Instance 11", 14, "start"); a.setAttribute("letter-spacing", "1.5");
  
  
  const n = txt(svg, 226, 287, "N=128", 14, "start");
  
  
  const ln = poly(svg, f1S.map((s, i) => [x(s), y(f1Q[i])]), "#4444dd", 1);
  
  
  f1S.forEach((s, i) => {
    if (f1Err[i] > 0) {
      const xx = x(s), y1 = y(f1Q[i] - f1Err[i]), y2 = y(f1Q[i] + f1Err[i]);
      const eb = line(svg, xx, y1, xx, y2, "#e03a3a", 1);
      
      
      line(svg, xx - 3, y1, xx + 3, y1, "#e03a3a", 1); line(svg, xx - 3, y2, xx + 3, y2, "#e03a3a", 1);
    }
    const m = marker(svg, "circle", x(s), y(f1Q[i]), "#e01818", 2.8);
    
    
  });
})();

// ===== Fig 2 =====
(function () {
  const svg = document.getElementById("fig2");
  const L = 68, R = 347, T = 13, B = 313;
  const x = v => L + (v - 0.638) / (0.648 - 0.638) * (R - L);
  const y = v => B - (v - 0.1) / (0.7 - 0.1) * (B - T);
  const fr = frame(svg, L, R, T, B);
  
  
  for (let i = 0; i <= 20; i++) { const v = 0.638 + i * 0.0005; const xx = x(v); const major = (i % 10) === 4; const len = major ? 8 : 4; line(svg, xx, B, xx, B - len, "#444", 1); line(svg, xx, T, xx, T + len, "#444", 1); }
  for (let i = 0; i <= 12; i++) { const v = 0.1 + i * 0.05; const yy = y(v); const major = (i % 4) === 2; const len = major ? 8 : 4; line(svg, L, yy, L + len, yy, "#444", 1); line(svg, R, yy, R - len, yy, "#444", 1); }
  f2XTickLabels.forEach(s => { const t = txt(svg, x(parseFloat(s)), B + 20, s, 14);   });
  f2YTickLabels.forEach(s => { const t = txt(svg, L - 10, y(parseFloat(s)) + 5, s, 14, "end");   });
  const xt = txt(svg, 206, B + 38, "λ", 15);
  
  
  const yt = txt(svg, 0, 0, "q", 15);
  yt.setAttribute("transform", `translate(17,163) rotate(90)`);
  
  
  const a = txt(svg, 108, 48, "Instance 2", 12, "start"); a.setAttribute("font-weight", "bold"); a.setAttribute("letter-spacing", "1");
  
  
  const n = txt(svg, 108, 71, "N=64", 12, "start"); n.setAttribute("font-weight", "bold");
  
  
  const series = [
    { s: f2SLow, q: f2Q256, c: "#33c6c6", k: "star", name: "fig2-series-beta-256" },
    { s: f2SLow, q: f2Q512, c: "#e23333", k: "otri", name: "fig2-series-beta-512" },
    { s: f2SHigh, q: f2Q1024, c: "#1f9c1f", k: "circle", name: "fig2-series-beta-1024" },
    { s: f2SHigh, q: f2Q2048, c: "#3a3ad8", k: "square", name: "fig2-series-beta-2048" },
    { s: f2SHigh, q: f2Q4096, c: "#c87a22", k: "tri", name: "fig2-series-beta-4096" }
  ];
  series.forEach(sr => {
    const ln = poly(svg, sr.s.map((s, i) => [x(s), y(sr.q[i])]), sr.c, 1);
    
    
    sr.s.forEach((s, i) => {
      const m = marker(svg, sr.k, x(s), y(sr.q[i]), sr.c, sr.k === "circle" ? 3.2 : 3);
      
      
    });
  });
  const bt = txt(svg, 320, 203, "β", 13); bt.setAttribute("font-weight", "bold"); bt.setAttribute("font-style", "italic");
  
  
  f2Betas.forEach((b, i) => {
    const yy = 214 + i * 15; const sr = series[i];
    const g = el(svg, "g");
    
    
    line(g, 270, yy, 293, yy, sr.c, 1);
    marker(g, sr.k, 281.5, yy, sr.c, sr.k === "circle" ? 3.2 : 3);
    txt(g, 325, yy + 5, b, 13, "end");
  });
})();

// ===== Fig 3 =====
(function () {
  const svg = document.getElementById("fig3");
  const L = 72.7, R = 360, T = 19, B = 319;
  const dec = 180;
  const x = v => L + Math.log10(v / 10) * dec;
  const y = v => B - v * (B - T);
  const fr = frame(svg, L, R, T, B);
  
  
  const xt = [10,20,30,40,50,60,70,80,90,100,200,300];
  xt.forEach(v => { const xx = x(v); const major = (v === 10 || v === 100); const len = major ? 10 : 5; line(svg, xx, B, xx, B - len, "#444", 1); line(svg, xx, T, xx, T + len, "#444", 1); });
  for (let i = 0; i <= 20; i++) { const v = i * 0.05; const yy = y(v); const len = i % 4 === 0 ? 8 : 4; line(svg, L, yy, L + len, yy, "#444", 1); line(svg, R, yy, R - len, yy, "#444", 1); }
  f3XTickLabels.forEach(s => { const t = txt(svg, x(parseFloat(s)), B + 21, s, 14);   });
  f3YTickLabels.forEach(s => { const t = txt(svg, L - 10, y(parseFloat(s)) + 5, s, 14, "end");   });
  const xl = txt(svg, 217, B + 36, "N", 13);
  
  
  const yl = txt(svg, 0, 0, "Fraction of instances 1st order", 14);
  yl.setAttribute("transform", `translate(32,${(T + B) / 2 + 2}) rotate(-90)`);
  yl.setAttribute("letter-spacing", "0.8");
  
  
  const ln = poly(svg, f3N.map((n, i) => [x(n), y(f3Frac[i])]), "#3333cc", 1);
  
  
  f3N.forEach((n, i) => {
    const xx = x(n);
    if (f3Err[i] > 0) {
      const y1 = y(f3Frac[i] - f3Err[i]), y2 = y(f3Frac[i] + f3Err[i]);
      const eb = line(svg, xx, y1, xx, y2, "#e04040", 1);
      
      
      line(svg, xx - 4.5, y1, xx + 4.5, y1, "#e04040", 1); line(svg, xx - 4.5, y2, xx + 4.5, y2, "#e04040", 1);
    }
    const m = marker(svg, "tri", xx, y(f3Frac[i]) - 1, "#dd0000", 4);
    
    
  });
})();
</script>
</body></html>
